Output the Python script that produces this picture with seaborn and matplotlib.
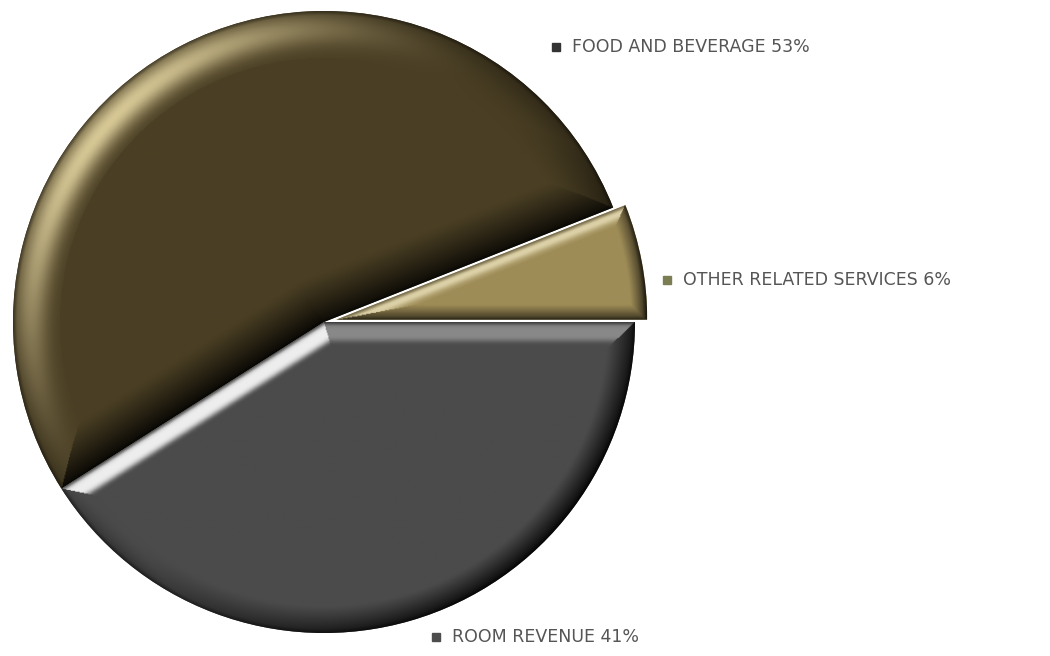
import numpy as np
import matplotlib
matplotlib.use("Agg")
import matplotlib.pyplot as plt
import matplotlib.colors as mcolors
from matplotlib.patches import Rectangle
import seaborn as sns

# Revenue split (percent), drawn counter-clockwise from 3 o'clock
categories = ["OTHER RELATED SERVICES", "FOOD AND BEVERAGE", "ROOM REVENUE"]
shares = [6, 53, 41]

slice_colors = ["#9e8c57", "#4a3f24", "#4b4b4b"]
highlight_colors = ["#f2e9c4", "#d6c795", "#ffffff"]
marker_colors = ["#7b7d52", "#333333", "#4d4d4d"]
bevel_widths = [0.05, 0.15, 0.085]
bevel_flatness = [2, 2, 4]
explode = [0.04, 0, 0]

sns.set_theme(style="white")
plt.rcParams["font.family"] = ["DejaVu Sans"]

W, H = 1050, 656
fig = plt.figure(figsize=(W / 100, H / 100), dpi=100)
fig.patch.set_facecolor("white")
ax = fig.add_axes([0, 0, 1, 1])

wedges, _ = ax.pie(shares, colors=slice_colors, startangle=0,
                   counterclock=True, explode=explode, radius=1.0,
                   wedgeprops=dict(linewidth=0))

LIGHT = np.array([-0.75, 0.66])
LIGHT = LIGHT / np.linalg.norm(LIGHT)


def bevel(wedge, base, hl, width, flat, n=700):
    """Overlay a rounded-bevel shading image clipped to a pie wedge."""
    c = np.array(wedge.center, dtype=float)
    r = wedge.r
    t1, t2 = np.deg2rad(wedge.theta1), np.deg2rad(wedge.theta2)
    xs = np.linspace(c[0] - r, c[0] + r, n)
    ys = np.linspace(c[1] - r, c[1] + r, n)
    X, Y = np.meshgrid(xs, ys)
    px, py = X - c[0], Y - c[1]
    rho = np.hypot(px, py) + 1e-9

    dists = [r - rho]
    nxs = [px / rho]
    nys = [py / rho]
    for t, sign in ((t1, 1.0), (t2, -1.0)):
        ux, uy = np.cos(t), np.sin(t)
        s = np.clip(px * ux + py * uy, 0, r)
        d = np.hypot(px - s * ux, py - s * uy)
        dists.append(d)
        nxs.append(np.full_like(d, sign * uy))
        nys.append(np.full_like(d, -sign * ux))
    D = np.stack(dists)
    idx = np.argmin(D, axis=0)
    d = np.take_along_axis(D, idx[None], 0)[0]
    nx = np.take_along_axis(np.stack(nxs), idx[None], 0)[0]
    ny = np.take_along_axis(np.stack(nys), idx[None], 0)[0]

    s = np.clip(d / width, 0, 1)
    shade = nx * LIGHT[0] + ny * LIGHT[1]

    base = np.array(mcolors.to_rgb(base))
    hl = np.array(mcolors.to_rgb(hl))
    lit = np.clip(shade, 0, 1) ** 2.5 * np.exp(-np.abs((s - 0.38) / 0.36) ** flat)
    lit = np.where(s >= 1, 0, lit)
    dark = 0.88 * np.clip(-shade, 0, 1) ** 0.7 * (1 - s) ** 1.1
    amb = 0.35 * (1 - s) ** 2 * (1 - np.clip(shade, 0, 1))
    edge = 0.35 * np.clip(1 - d / 0.012, 0, 1)

    rgb = base[None, None, :] * (1 - np.maximum(dark, amb))[..., None]
    rgb = rgb * (1 - lit)[..., None] + hl[None, None, :] * lit[..., None]
    rgb = rgb * (1 - edge)[..., None]
    im = ax.imshow(np.clip(rgb, 0, 1), extent=(xs[0], xs[-1], ys[0], ys[-1]),
                   origin="lower", interpolation="bilinear", aspect="auto",
                   zorder=wedge.get_zorder() + 0.5)
    im.set_clip_path(wedge)


for w, col, hl, bw, fl in zip(wedges, slice_colors, highlight_colors,
                              bevel_widths, bevel_flatness):
    bevel(w, col, hl, bw, fl)

# map one data unit to the pie radius in pixels
scale = 311.0
cx, cy = 324.0, H - 322.0
ax.set_xlim(-cx / scale, (W - cx) / scale)
ax.set_ylim(-cy / scale, (H - cy) / scale)
ax.set_aspect("auto")
ax.axis("off")

# slice labels with square markers (pixel positions from top-left)
label_pos = [(663, 280), (552, 47), (432, 637)]
for cat, val, mc, (x, y) in zip(categories, shares, marker_colors, label_pos):
    fx, fy = x / W, 1 - y / H
    fig.patches.append(Rectangle((fx, fy - 4 / H), 8 / W, 8 / H,
                                 transform=fig.transFigure, color=mc,
                                 figure=fig))
    fig.text(fx + 20 / W, fy, f"{cat} {val}%", fontsize=12.5,
             color="#555555", va="center", ha="left")

fig.savefig("out.png", dpi=100, facecolor="white")
